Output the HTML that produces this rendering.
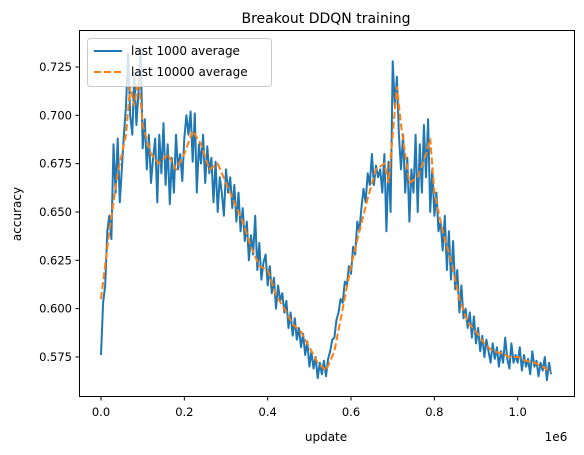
<!DOCTYPE html>
<html><head><meta charset="utf-8">
<style>
html,body{margin:0;padding:0;background:#fff;}
svg{display:block;font-family:"DejaVu Sans","Liberation Sans",sans-serif;}
</style></head>
<body>
<svg id="chart" width="584" height="455" viewBox="0 0 584 455">
  <text x="326" y="23" font-size="14" text-anchor="middle" fill="#000">Breakout DDQN training</text>
  <g id="plot"></g>
  <g id="xticks"></g>
  <g id="yticks"></g>
  <text x="326" y="441" font-size="12" text-anchor="middle">update</text>
  <text x="556" y="441" font-size="12" text-anchor="middle">1e6</text>
  <text transform="translate(21,214) rotate(-90)" font-size="12" text-anchor="middle">accuracy</text>
  <rect x="79.5" y="30.5" width="495" height="366" fill="none" stroke="#000" stroke-width="1"/>
  <g>
    <rect x="87.5" y="38.5" width="184" height="48" rx="3" fill="#fff" fill-opacity="0.8" stroke="#ccc"/>
    <line x1="94" y1="51" x2="122" y2="51" stroke="#1f77b4" stroke-width="2"/>
    <text x="131" y="55" font-size="12">last 1000 average</text>
    <line x1="94" y1="72" x2="122" y2="72" stroke="#ff7f0e" stroke-width="2" stroke-dasharray="7,3"/>
    <text x="131" y="76" font-size="12">last 10000 average</text>
  </g>
</svg>
<script>
const xTickVals = [0.0, 0.2, 0.4, 0.6, 0.8, 1.0];
const xTickLabels = ["0.0", "0.2", "0.4", "0.6", "0.8", "1.0"];
const yTickVals = [0.575, 0.6, 0.625, 0.65, 0.675, 0.7, 0.725];
const yTickLabels = ["0.575", "0.600", "0.625", "0.650", "0.675", "0.700", "0.725"];
const blueStep = 0.005;
const blueValues = [
0.576,0.603,0.612,0.640,0.648,0.636,0.685,0.660,0.688,0.655,
0.672,0.690,0.705,0.732,0.700,0.690,0.722,0.695,0.712,0.735,
0.683,0.698,0.672,0.690,0.665,0.678,0.688,0.655,0.690,0.670,
0.696,0.664,0.685,0.654,0.678,0.660,0.690,0.672,0.680,0.666,
0.688,0.700,0.690,0.702,0.676,0.701,0.660,0.685,0.675,0.690,
0.665,0.684,0.670,0.678,0.655,0.676,0.650,0.668,0.660,0.648,
0.672,0.660,0.668,0.652,0.664,0.645,0.660,0.640,0.652,0.635,
0.645,0.625,0.638,0.628,0.648,0.620,0.634,0.615,0.624,0.628,
0.612,0.622,0.608,0.616,0.600,0.612,0.604,0.608,0.598,0.604,
0.590,0.598,0.586,0.595,0.584,0.590,0.580,0.587,0.576,0.583,
0.570,0.578,0.569,0.575,0.564,0.572,0.566,0.573,0.565,0.574,
0.578,0.584,0.585,0.594,0.598,0.605,0.603,0.614,0.612,0.622,
0.618,0.632,0.628,0.645,0.640,0.652,0.662,0.655,0.670,0.664,
0.680,0.664,0.674,0.668,0.672,0.660,0.680,0.640,0.676,0.650,
0.728,0.705,0.720,0.690,0.672,0.690,0.660,0.678,0.645,0.672,
0.660,0.690,0.650,0.685,0.660,0.695,0.668,0.698,0.650,0.672,
0.648,0.660,0.640,0.645,0.630,0.648,0.620,0.640,0.615,0.635,
0.610,0.620,0.598,0.612,0.595,0.600,0.590,0.598,0.585,0.596,
0.582,0.590,0.578,0.586,0.575,0.584,0.578,0.572,0.582,0.574,
0.580,0.570,0.578,0.572,0.585,0.574,0.569,0.582,0.572,0.576,
0.572,0.580,0.568,0.576,0.570,0.574,0.566,0.578,0.570,0.573,
0.565,0.572,0.568,0.575,0.563,0.572,0.566];
const orangeX = [0.00,0.02,0.04,0.06,0.07,0.08,0.09,0.10,0.12,0.14,0.16,0.18,0.20,0.22,0.24,0.26,0.28,0.30,0.32,0.34,0.36,0.38,0.40,0.42,0.44,0.46,0.48,0.50,0.52,0.54,0.56,0.58,0.60,0.62,0.64,0.66,0.68,0.69,0.70,0.71,0.72,0.74,0.76,0.78,0.79,0.80,0.82,0.84,0.86,0.88,0.90,0.92,0.94,0.96,0.98,1.00,1.02,1.04,1.06,1.08];
const orangeY = [0.605,0.640,0.670,0.690,0.715,0.705,0.720,0.695,0.680,0.675,0.680,0.672,0.680,0.692,0.685,0.672,0.675,0.665,0.655,0.645,0.632,0.622,0.620,0.607,0.600,0.592,0.588,0.580,0.572,0.568,0.578,0.600,0.622,0.640,0.657,0.672,0.675,0.665,0.690,0.715,0.695,0.665,0.668,0.680,0.688,0.660,0.640,0.625,0.605,0.593,0.588,0.582,0.578,0.577,0.575,0.575,0.573,0.572,0.570,0.567];

const NS = "http://www.w3.org/2000/svg";
const X0 = 101, XS = 416.7;
const Y0 = 67, YV = 0.725, YS = 1933;
function sx(v){ return X0 + v * XS; }
function sy(v){ return Y0 + (YV - v) * YS; }

const plot = document.getElementById('plot');
const xg = document.getElementById('xticks');
const yg = document.getElementById('yticks');

xTickVals.forEach((v,i)=>{
  const l = document.createElementNS(NS,'line');
  l.setAttribute('x1', sx(v)); l.setAttribute('x2', sx(v));
  l.setAttribute('y1', 396.5); l.setAttribute('y2', 400.5);
  l.setAttribute('stroke', '#000');
  
  
  xg.appendChild(l);
  const t = document.createElementNS(NS,'text');
  t.setAttribute('x', sx(v)); t.setAttribute('y', 416);
  t.setAttribute('font-size', '11.5'); t.setAttribute('text-anchor', 'middle');
  t.textContent = xTickLabels[i];
  
  
  xg.appendChild(t);
});
yTickVals.forEach((v,i)=>{
  const l = document.createElementNS(NS,'line');
  l.setAttribute('x1', 75.5); l.setAttribute('x2', 79.5);
  l.setAttribute('y1', sy(v)); l.setAttribute('y2', sy(v));
  l.setAttribute('stroke', '#000');
  
  
  yg.appendChild(l);
  const t = document.createElementNS(NS,'text');
  t.setAttribute('x', 72); t.setAttribute('y', sy(v) + 4);
  t.setAttribute('font-size', '11.5'); t.setAttribute('text-anchor', 'end');
  t.textContent = yTickLabels[i];
  
  
  yg.appendChild(t);
});

const bp = blueValues.map((v,i)=>sx(i*blueStep).toFixed(1)+','+sy(v).toFixed(1)).join(' ');
const blue = document.createElementNS(NS,'polyline');
blue.setAttribute('points', bp);
blue.setAttribute('fill', 'none'); blue.setAttribute('stroke', '#1f77b4');
blue.setAttribute('stroke-width', '2'); blue.setAttribute('stroke-linejoin', 'round');


plot.appendChild(blue);

const op = orangeX.map((x,i)=>sx(x).toFixed(1)+','+sy(orangeY[i]).toFixed(1)).join(' ');
const orange = document.createElementNS(NS,'polyline');
orange.setAttribute('points', op);
orange.setAttribute('fill', 'none'); orange.setAttribute('stroke', '#ff7f0e');
orange.setAttribute('stroke-width', '2'); orange.setAttribute('stroke-dasharray', '7,3');


plot.appendChild(orange);
</script>
</body></html>
